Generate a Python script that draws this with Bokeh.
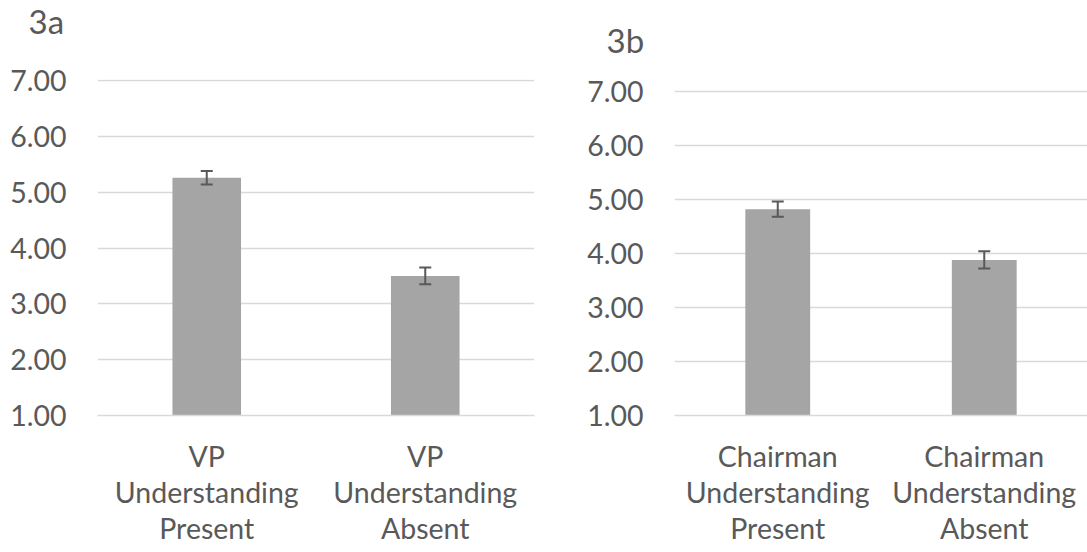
from bokeh.plotting import figure
from bokeh.models import ColumnDataSource, Whisker, TeeHead, FixedTicker, NumeralTickFormatter, Title
from bokeh.layouts import row
from bokeh.embed import file_html
from bokeh.resources import INLINE

# ---- data ----
cats_a = ["VP\nUnderstanding\nPresent", "VP\nUnderstanding\nAbsent"]
means_a = [5.26, 3.50]
errs_a = [0.12, 0.15]

cats_b = ["Chairman\nUnderstanding\nPresent", "Chairman\nUnderstanding\nAbsent"]
means_b = [4.82, 3.88]
errs_b = [0.14, 0.16]

y_ticks = [1, 2, 3, 4, 5, 6, 7]
titles = ["3a", "3b"]

FONT = "Lato"
TXT = "#595959"
GRID = "#D9D9D9"
BAR = "#A5A5A5"


def make(title, cats, means, errs, width, y_end, mbl, mbr, t_off, spacer):
    p = figure(x_range=cats, y_range=(1, y_end), width=width, height=552,
               output_backend="svg", toolbar_location=None, title=None,
               min_border_left=mbl, min_border_right=mbr,
               min_border_top=79, min_border_bottom=137,
               outline_line_color=None, background_fill_color="white",
               border_fill_color="white")
    # spacer between frame and title (closest to the frame)
    p.add_layout(Title(text=" ", text_font=FONT, text_font_size="10px",
                       standoff=spacer, text_color="white"), "above")
    # actual panel title (outermost)
    p.add_layout(Title(text=title, align="left", vertical_align="top",
                       offset=t_off, standoff=0, text_font=FONT,
                       text_font_size="33px", text_font_style="normal",
                       text_color=TXT), "above")

    src = ColumnDataSource(dict(
        x=cats, top=means,
        upper=[m + e for m, e in zip(means, errs)],
        lower=[m - e for m, e in zip(means, errs)],
    ))
    p.vbar(x="x", top="top", bottom=1, width=0.314, source=src,
           fill_color=BAR, line_color=None)
    p.add_layout(Whisker(source=src, base="x", upper="upper", lower="lower",
                         level="annotation",
                         line_color=TXT, line_width=2,
                         upper_head=TeeHead(size=12, line_color=TXT, line_width=2),
                         lower_head=TeeHead(size=12, line_color=TXT, line_width=2)))

    p.yaxis.ticker = FixedTicker(ticks=y_ticks)
    p.yaxis.formatter = NumeralTickFormatter(format="0.00")
    p.yaxis.axis_line_color = None
    p.yaxis.major_tick_line_color = None
    p.yaxis.minor_tick_line_color = None
    p.yaxis.major_label_standoff = 25
    p.yaxis.major_label_text_font = FONT
    p.yaxis.major_label_text_font_size = "28.5px"
    p.yaxis.major_label_text_color = TXT

    p.xaxis.axis_line_color = GRID
    p.xaxis.axis_line_width = 1.5
    p.xaxis.major_tick_line_color = None
    p.xaxis.minor_tick_line_color = None
    p.xaxis.major_label_standoff = 17
    p.xaxis.major_label_text_font = FONT
    p.xaxis.major_label_text_font_size = "28.5px"
    p.xaxis.major_label_text_line_height = 1.07
    p.xaxis.major_label_text_color = TXT

    p.xgrid.grid_line_color = None
    p.ygrid.grid_line_color = GRID
    p.ygrid.grid_line_width = 1.5
    return p


p1 = make(titles[0], cats_a, means_a, errs_a, 560, 7.02, 97, 26, -69, 23)
p2 = make(titles[1], cats_b, means_b, errs_b, 527, 7.22, 114, 0, -68, 4)

layout = row(p1, p2)
open("out.html", "w").write(file_html(layout, INLINE))
